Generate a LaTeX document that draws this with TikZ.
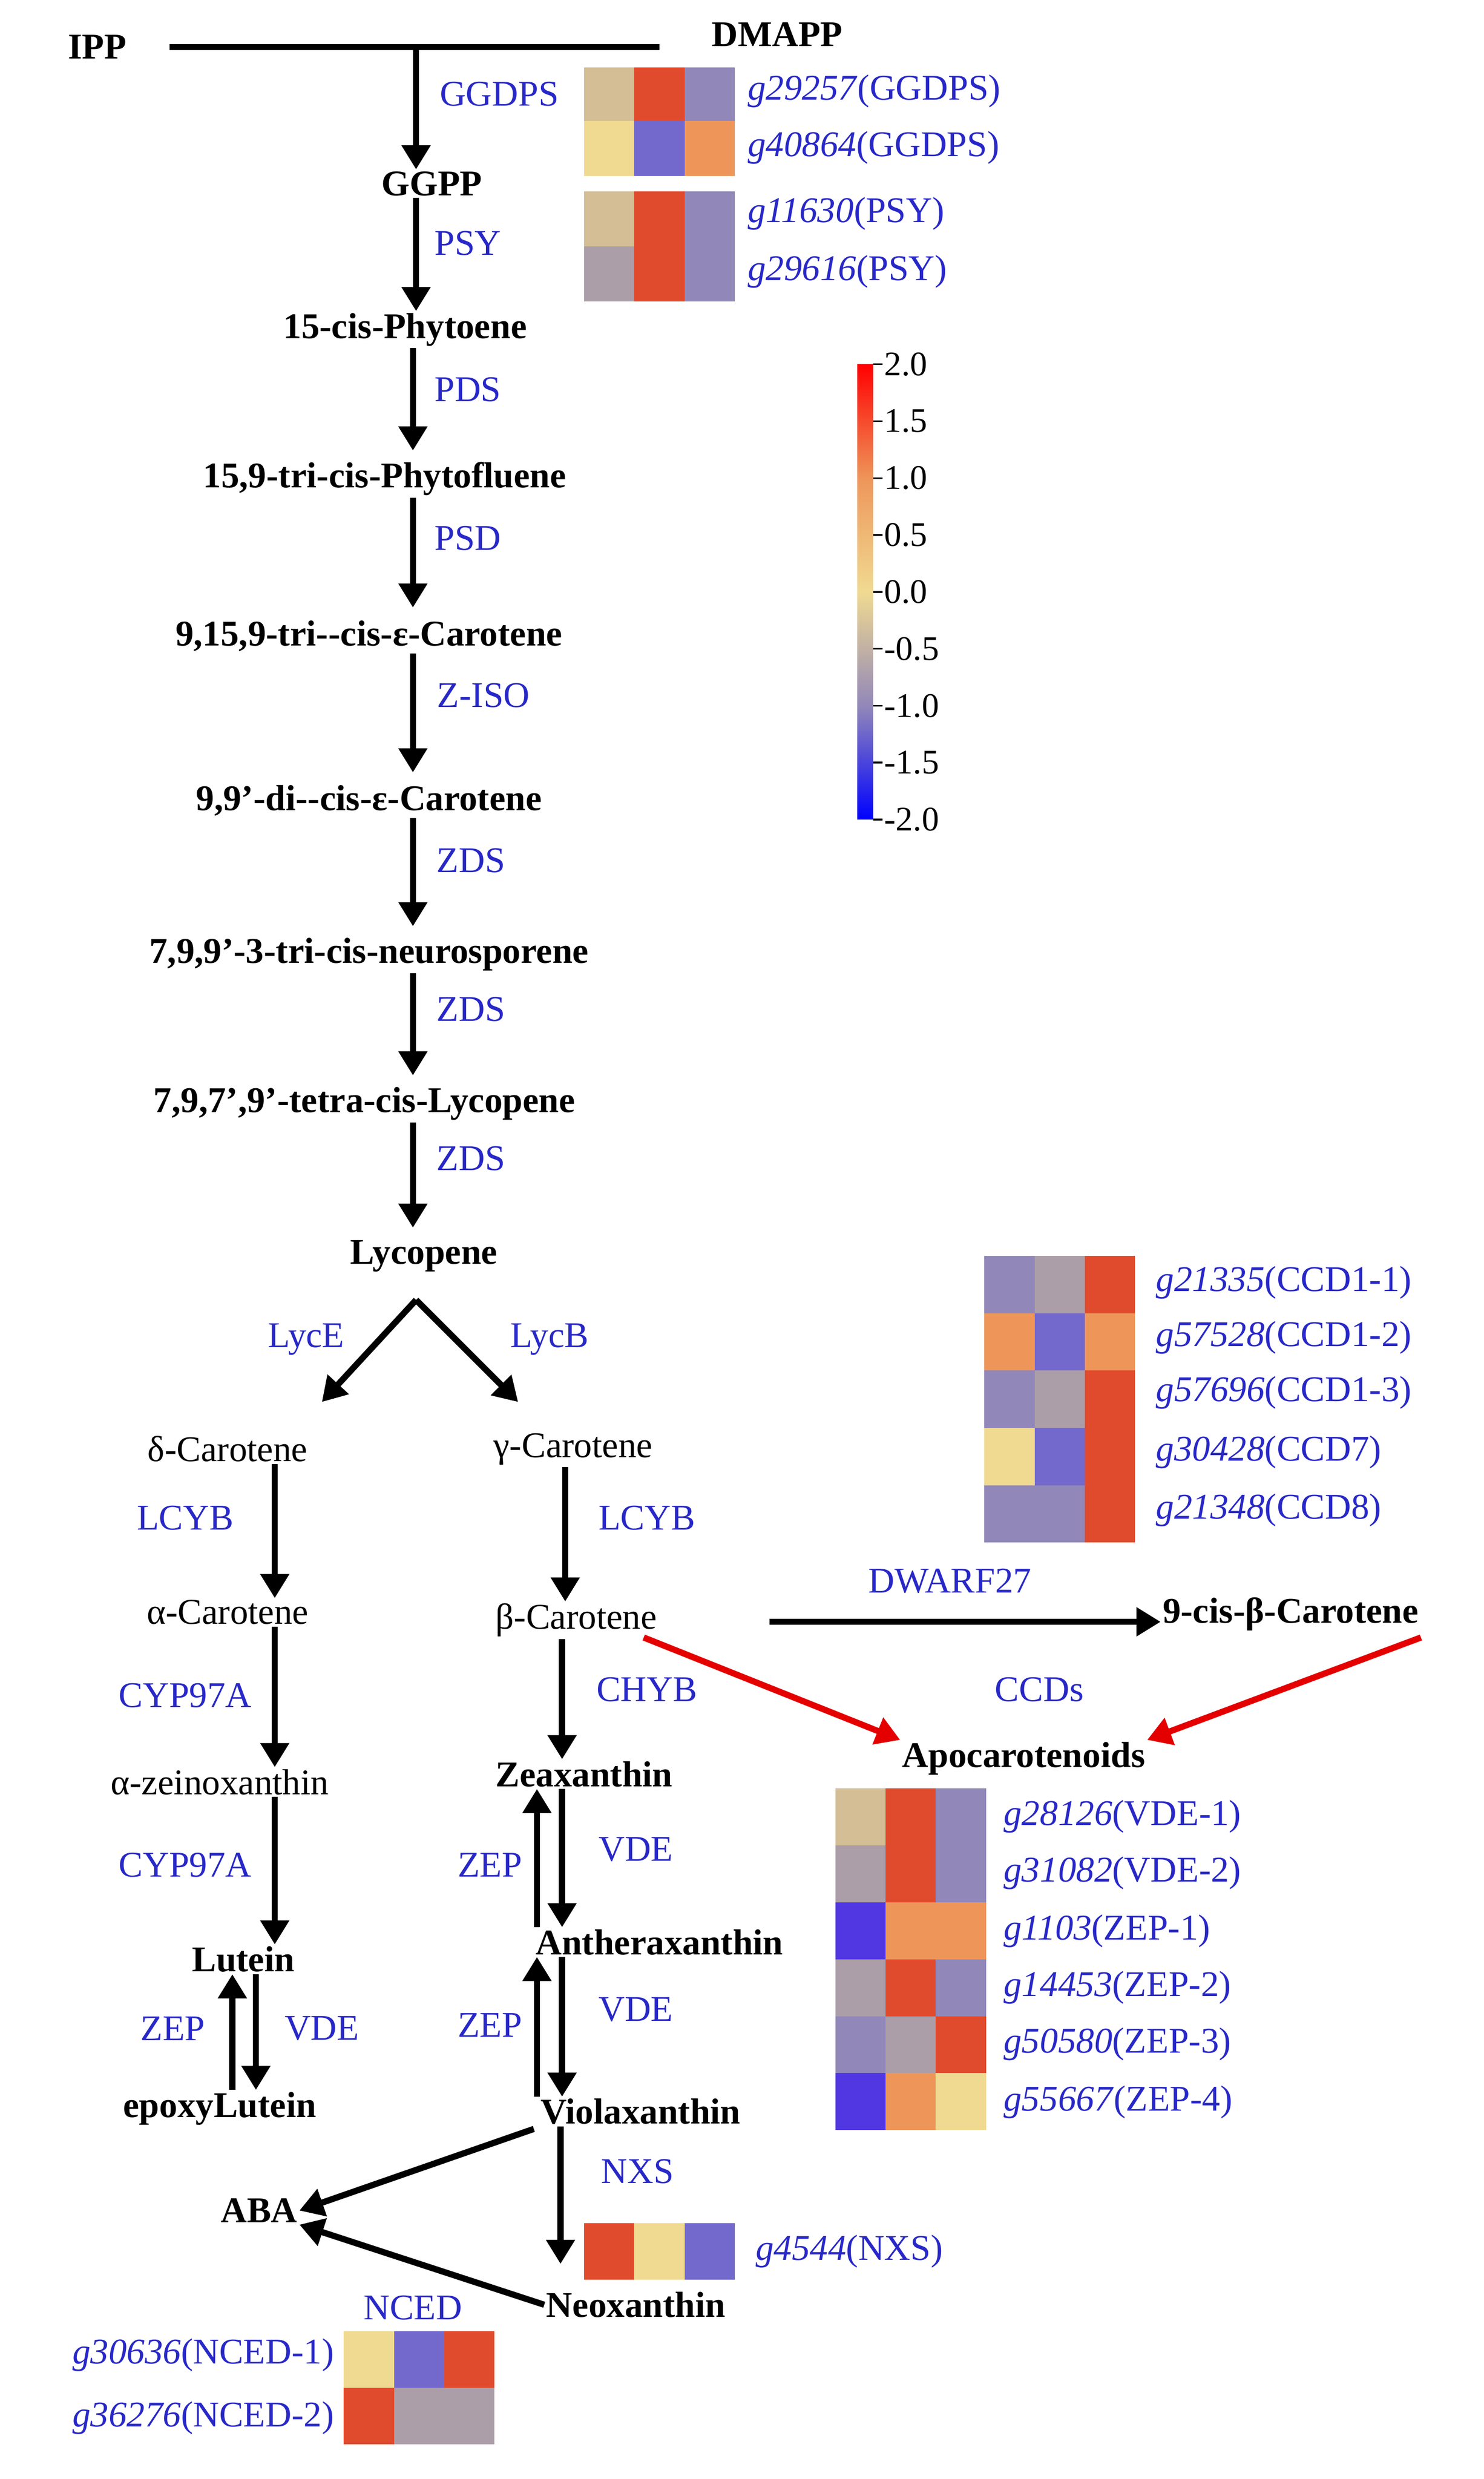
\documentclass[tikz,border=0pt]{standalone}
\usepackage{fontspec}
\setmainfont{Liberation Serif}
\usetikzlibrary{arrows.meta}
\definecolor{enz}{RGB}{40,40,200}
\definecolor{hR}{RGB}{225,75,45}
\definecolor{hO}{RGB}{238,150,90}
\definecolor{hP}{RGB}{145,135,185}
\definecolor{hB}{RGB}{115,105,205}
\definecolor{hT}{RGB}{212,190,150}
\definecolor{hY}{RGB}{240,218,145}
\definecolor{hG}{RGB}{172,158,168}
\definecolor{hD}{RGB}{80,55,225}
\tikzstyle{met} = [font=\fontsize{21}{25}\selectfont\bfseries, inner sep=1pt]
\tikzstyle{enzyme} = [font=\fontsize{21}{25}\selectfont, text=enz, inner sep=1pt]
\tikzstyle{gene} = [font=\fontsize{21}{25}\selectfont, text=enz, inner sep=1pt, anchor=west]
\tikzstyle{line} = [draw, line width=3.6pt, -{Triangle[length=14pt,width=16pt]}]
\tikzstyle{redline} = [draw=red!90!black, line width=3.6pt, -{Triangle[length=14pt,width=16pt]}]
% three heat cells: x, y top, height, colours
\newcommand{\hmrow}[6]{%
  \fill[#4] (#1,#2) rectangle ++(32,#3);
  \fill[#5] (#1+32,#2) rectangle ++(32,#3);
  \fill[#6] (#1+64,#2) rectangle ++(32,#3);}
\begin{document}
\begin{tikzpicture}[x=0.032cm, y=-0.032cm]
    \useasboundingbox (0,0) rectangle (945,1579);
    % Place nodes
    \node [met] (ipp) at (62,30) {IPP};
    \node [met] (dmapp) at (495,22) {DMAPP};
    \coordinate (jl) at (108,30);
    \coordinate (jr) at (420,30);
    \coordinate (jm) at (265,30);
    \node [met] (ggpp) at (275,117) {GGPP};
    \node [met] (phy) at (258,210) {15-cis-Phytoene};
    \node [met] (phf) at (245,305) {15,9-tri-cis-Phytofluene};
    \node [met] (zc1) at (235,405) {9,15,9-tri{-}{-}cis-ε-Carotene};
    \node [met] (zc2) at (235,510) {9,9’-di{-}{-}cis-ε-Carotene};
    \node [met] (neu) at (235,608) {7,9,9’-3-tri-cis-neurosporene};
    \node [met] (tly) at (232,703) {7,9,7’,9’-tetra-cis-Lycopene};
    \node [met] (lyc) at (270,800) {Lycopene};
    \node [met, font=\fontsize{21}{25}\selectfont] (dca) at (145,923) {δ-Carotene};
    \node [met, font=\fontsize{21}{25}\selectfont] (gca) at (365,923) {γ-Carotene};
    \node [met, font=\fontsize{21}{25}\selectfont] (aca) at (145,1027) {α-Carotene};
    \node [met, font=\fontsize{21}{25}\selectfont] (bca) at (367,1032) {β-Carotene};
    \coordinate (bcr) at (490,1033);
    \node [met, font=\fontsize{21}{25}\selectfont] (azx) at (140,1135) {α-zeinoxanthin};
    \node [met] (zea) at (372,1130) {Zeaxanthin};
    \node [met] (lut) at (155,1248) {Lutein};
    \node [met] (ant) at (420,1237) {Antheraxanthin};
    \node [met] (elu) at (140,1343) {epoxyLutein};
    \node [met] (vio) at (408,1345) {Violaxanthin};
    \node [met] (aba) at (165,1408) {ABA};
    \node [met] (neo) at (405,1468) {Neoxanthin};
    \node [met] (nbc) at (822,1028) {9-cis-β-Carotene};
    \node [met] (apo) at (652,1120) {Apocarotenoids};
    % enzymes
    \node [enzyme] at (318,60) {GGDPS};
    \node [enzyme] at (298,155) {PSY};
    \node [enzyme] at (298,248) {PDS};
    \node [enzyme] at (298,343) {PSD};
    \node [enzyme] at (308,443) {Z-ISO};
    \node [enzyme] at (300,548) {ZDS};
    \node [enzyme] at (300,643) {ZDS};
    \node [enzyme] at (300,738) {ZDS};
    \node [enzyme] at (195,853) {LycE};
    \node [enzyme] at (350,853) {LycB};
    \node [enzyme] at (118,967) {LCYB};
    \node [enzyme] at (412,967) {LCYB};
    \node [enzyme] at (118,1080) {CYP97A};
    \node [enzyme] at (412,1076) {CHYB};
    \node [enzyme] at (118,1188) {CYP97A};
    \node [enzyme] at (312,1188) {ZEP};
    \node [enzyme] at (405,1178) {VDE};
    \node [enzyme] at (110,1292) {ZEP};
    \node [enzyme] at (205,1292) {VDE};
    \node [enzyme] at (312,1290) {ZEP};
    \node [enzyme] at (405,1280) {VDE};
    \node [enzyme] at (406,1383) {NXS};
    \node [enzyme] at (263,1470) {NCED};
    \node [enzyme] at (605,1007) {DWARF27};
    \node [enzyme] at (662,1076) {CCDs};
    % Draw edges
    \draw [line width=3.6pt] (jl) -- (jr);
    \path [line] (jm) -- (ggpp.north -| jm);
    \path [line] (ggpp.south -| jm) -- (phy.north -| jm);
    \path [line] (phy.south -| 263,0) -- (263,287);
    \path [line] (phf.south -| 263,0) -- (263,387);
    \path [line] (zc1.south -| 263,0) -- (263,492);
    \path [line] (zc2.south -| 263,0) -- (263,590);
    \path [line] (neu.south -| 263,0) -- (263,685);
    \path [line] (tly.south -| 263,0) -- (263,782);
    \path [line] (265,828) -- (205,893);
    \path [line] (265,828) -- (330,893);
    \path [line] (dca.south -| 175,0) -- (aca.north -| 175,0);
    \path [line] (gca.south -| 360,0) -- (bca.north -| 360,0);
    \path [line] (aca.south -| 175,0) -- (azx.north -| 175,0);
    \path [line] (bca.south -| 358,0) -- (zea.north -| 358,0);
    \path [line] (azx.south -| 175,0) -- (lut.north -| 175,0);
    \path [line] (ant.north -| 342,0) -- (zea.south -| 342,0);
    \path [line] (zea.south -| 358,0) -- (ant.north -| 358,0);
    \path [line] (vio.north -| 342,0) -- (ant.south -| 342,0);
    \path [line] (ant.south -| 358,0) -- (vio.north -| 358,0);
    \path [line] (elu.north -| 148,0) -- (lut.south -| 148,0);
    \path [line] (lut.south -| 163,0) -- (elu.north -| 163,0);
    \path [line] (vio.south -| 357,0) -- (357,1442);
    \path [line] (340,1356) -- (aba.east);
    \path [line] (neo.west) -- (aba.south east);
    \path [line] (bcr) -- (nbc.west |- bcr);
    \path [redline] (410,1043) -- (apo.north west);
    \path [redline] (905,1043) -- (apo.north east);
    % heat maps
    \hmrow{372}{43}{35}{hT}{hR}{hP}
    \hmrow{372}{77}{35}{hY}{hB}{hO}
    \hmrow{372}{122}{35}{hT}{hR}{hP}
    \hmrow{372}{157}{35}{hG}{hR}{hP}
    \node [gene] at (475,58) {\textit{g29257}(GGDPS)};
    \node [gene] at (475,94) {\textit{g40864}(GGDPS)};
    \node [gene] at (475,136) {\textit{g11630}(PSY)};
    \node [gene] at (475,173) {\textit{g29616}(PSY)};
    \foreach \i/\a/\b/\c in {0/hP/hG/hR, 1/hO/hB/hO, 2/hP/hG/hR, 3/hY/hB/hR, 4/hP/hP/hR}
    {
      \hmrow{627}{800+\i*36.5}{36.5}{\a}{\b}{\c}
    }
    \node [gene] at (735,817) {\textit{g21335}(CCD1-1)};
    \node [gene] at (735,852) {\textit{g57528}(CCD1-2)};
    \node [gene] at (735,887) {\textit{g57696}(CCD1-3)};
    \node [gene] at (735,925) {\textit{g30428}(CCD7)};
    \node [gene] at (735,962) {\textit{g21348}(CCD8)};
    \foreach \i/\a/\b/\c in {0/hT/hR/hP, 1/hG/hR/hP, 2/hD/hO/hO, 3/hG/hR/hP, 4/hP/hG/hR, 5/hD/hO/hY}
    {
      \hmrow{532}{1139+\i*36.3}{36.3}{\a}{\b}{\c}
    }
    \node [gene] at (638,1157) {\textit{g28126}(VDE-1)};
    \node [gene] at (638,1193) {\textit{g31082}(VDE-2)};
    \node [gene] at (638,1230) {\textit{g1103}(ZEP-1)};
    \node [gene] at (638,1266) {\textit{g14453}(ZEP-2)};
    \node [gene] at (638,1302) {\textit{g50580}(ZEP-3)};
    \node [gene] at (638,1339) {\textit{g55667}(ZEP-4)};
    \hmrow{372}{1416}{36}{hR}{hY}{hB}
    \node [gene] at (480,1434) {\textit{g4544}(NXS)};
    \hmrow{219}{1485}{36}{hY}{hB}{hR}
    \hmrow{219}{1521}{36}{hR}{hG}{hG}
    \node [gene, anchor=east] at (214,1500) {\textit{g30636}(NCED-1)};
    \node [gene, anchor=east] at (214,1540) {\textit{g36276}(NCED-2)};
    % colour bar
    \shade [top color=red, bottom color=hO] (546,232) rectangle (556,305);
    \shade [top color=hO, bottom color=hY] (546,305) rectangle (556,377);
    \shade [top color=hY, bottom color=hP] (546,377) rectangle (556,450);
    \shade [top color=hP, bottom color=blue] (546,450) rectangle (556,522);
    \foreach \v [count=\k from 0] in {2.0,1.5,1.0,0.5,0.0,-0.5,-1.0,-1.5,-2.0}
    {
      \draw [line width=1pt] (556,232+\k*36.25) -- (562,232+\k*36.25);
      \node [anchor=west, inner sep=1pt, font=\fontsize{20}{24}\selectfont] at (562,232+\k*36.25) {\v};
    }
\end{tikzpicture}
\end{document}
